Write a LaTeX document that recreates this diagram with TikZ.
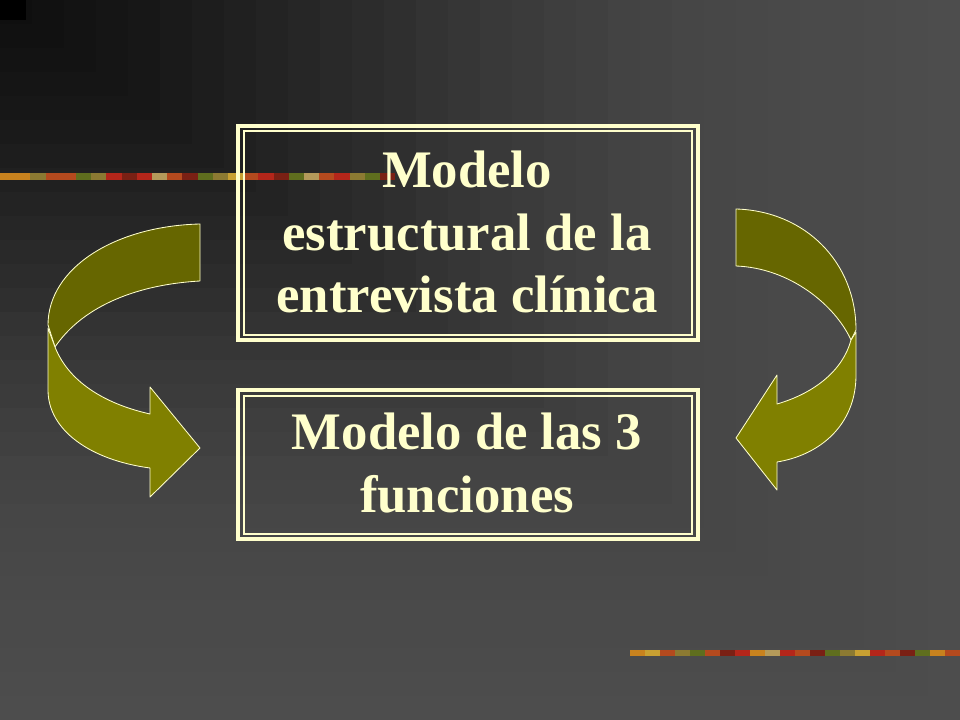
\documentclass[tikz,border=0pt]{standalone}
\usepackage{fontspec}
\setmainfont{Liberation Serif}
\usepackage{xcolor}
\usetikzlibrary{positioning}

\definecolor{cream}{HTML}{FFFFCC}
\definecolor{olivedark}{HTML}{666600}
\definecolor{olivelight}{HTML}{808000}
\definecolor{leafa}{HTML}{C8821E}
\definecolor{leafb}{HTML}{8C7A32}
\definecolor{leafc}{HTML}{B44A1E}
\definecolor{leafd}{HTML}{5F6E1E}
\definecolor{leafe}{HTML}{B4261A}
\definecolor{leaff}{HTML}{B49A5A}
\definecolor{leafg}{HTML}{7A2014}
\definecolor{leafh}{HTML}{C8A032}

\begin{document}
\begin{tikzpicture}[x=0.025cm,y=-0.025cm,
  frame/.style={draw=cream,line width=2.8pt,inner sep=0pt,outer sep=0pt,minimum width=11.475cm},
  innerline/.style={draw=cream,line width=1.4pt},
  boxtext/.style={text=cream,align=center,font=\bfseries\fontsize{37.5}{44.5}\selectfont},
  bandback/.style={fill=olivedark,draw=cream,line width=0.6pt,line join=round},
  bandfront/.style={fill=olivelight,draw=cream,line width=0.6pt,line join=round}]
  % background, rings from the top left corner
  \foreach \v [count=\i] in {77,76,75,74,74,73,72,71,70,68,67,64,62,59,57,54,51,47,44,41,38,35,32,29,26,23,21,19,17,15}
    \fill[fill={rgb,255:red,\v;green,\v;blue,\v}] (0,0) rectangle ({32*(31-\i)},{24*(31-\i)});
  \fill[black] (0,0) rectangle (26,20);
  \useasboundingbox (0,0) rectangle (960,720);
  % leaf stripes
  \foreach \c [count=\i] in {leafa,leafa,leafb,leafc,leafc,leafd,leafb,leafe,leafg,leafe,leaff,leafc,leafg,leafd,leafb,leafh,leafc,leafe,leafg,leafd,leaff,leafc,leafe,leafb,leafd,leafg}
    \fill[\c] ({(\i-1)*15.2},173) rectangle ({\i*15.2},180);
  \foreach \c [count=\i] in {leafa,leafh,leafc,leafb,leafd,leafc,leafg,leafe,leafa,leaff,leafe,leafc,leafg,leafd,leafb,leafh,leafe,leafc,leafg,leafd,leafa,leafc}
    \fill[\c] ({630+(\i-1)*15},650) rectangle ({630+\i*15},656);

  % boxes
  \node[frame,minimum height=5.35cm] (b1) at (468,233) {};
  \node[frame,minimum height=3.725cm,below=1.25cm of b1] (b2) {};
  \draw[innerline] ([shift={(5.5,5.5)}]b1.north west) rectangle ([shift={(-5.5,-5.5)}]b1.south east);
  \draw[innerline] ([shift={(5.5,5.5)}]b2.north west) rectangle ([shift={(-5.5,-5.5)}]b2.south east);
  \node[boxtext] (t1) at (467,232) {Modelo\\estructural de la\\entrevista clínica};
  \node[boxtext] (t2) at (467,463) {Modelo de las 3\\funciones};

  % left curved arrow
  \draw[bandback] (200,224) .. controls (115,226) and (48,268) .. (48,325)
    -- (55,347) .. controls (80,310) and (130,285) .. (200,281) -- cycle;
  \draw[bandfront] (48,328) -- (48,390) .. controls (48,430) and (90,460) .. (150,468)
    -- (150,497) -- (200,448) -- (150,387) -- (150,414)
    .. controls (110,405) and (70,385) .. (55,347) -- cycle;
  % right curved arrow
  \draw[bandback] (736,209) .. controls (805,211) and (856,262) .. (856,330)
    -- (851,340) .. controls (835,305) and (790,268) .. (736,266) -- cycle;
  \draw[bandfront] (856,332) -- (856,375) .. controls (856,425) and (820,455) .. (777,462)
    -- (777,490) -- (736,438) -- (777,375) -- (777,404)
    .. controls (815,393) and (843,370) .. (851,340) -- cycle;
\end{tikzpicture}
\end{document}
